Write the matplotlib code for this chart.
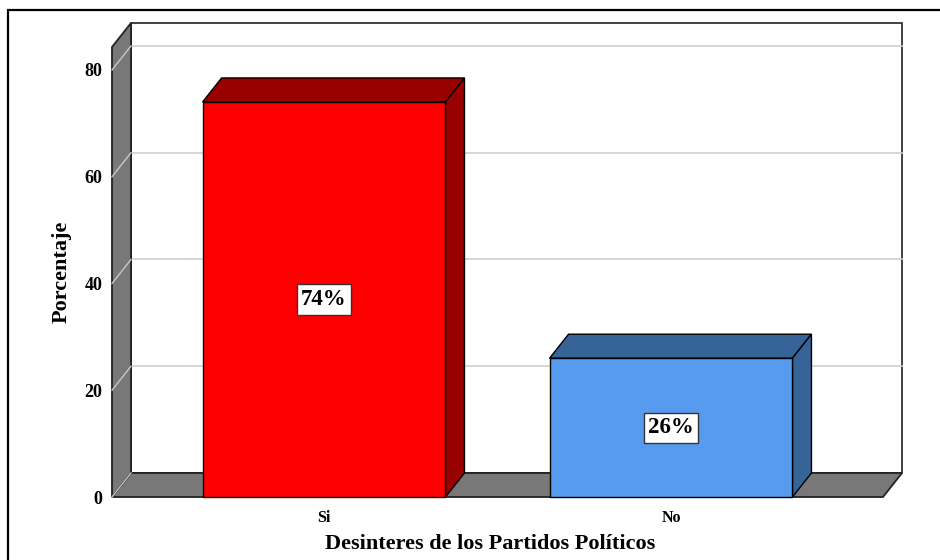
import matplotlib
matplotlib.use("Agg")
import matplotlib.pyplot as plt
from matplotlib.patches import Polygon, Rectangle

categories = ["Si", "No"]
values = [74, 26]
value_labels = ["74%", "26%"]
yticks = [0, 20, 40, 60, 80]
front_colors = ["#FF0000", "#579BEF"]
shade_colors = ["#990000", "#366398"]

plt.rcParams['font.family'] = ['Liberation Serif', 'DejaVu Serif']
plt.rcParams['font.weight'] = 'bold'

fig = plt.figure(figsize=(9.4, 5.6), dpi=100)
ax = fig.add_axes([112/940, 63/560, 771/940, 450/560])
ax.set_xlim(-0.611, 1.611)
ax.set_ylim(0, 84.3)
for s in ax.spines.values():
    s.set_visible(False)
ax.patch.set_visible(False)

DX, DY = 0.0548, 4.5
x0, x1 = ax.get_xlim()
top = ax.get_ylim()[1]
edge = "#222222"
wall = "#787878"

# back wall
ax.add_patch(Polygon([(x0+DX, DY), (x1+DX, DY), (x1+DX, top+DY), (x0+DX, top+DY)],
                     closed=True, fc="white", ec="#333333", lw=1.3, zorder=1, clip_on=False))
for v in yticks[1:]:
    ax.plot([x0+DX, x1+DX], [v+DY, v+DY], color="#cfcfcf", lw=1.2, zorder=1.5, clip_on=False)
# floor
ax.add_patch(Polygon([(x0, 0), (x1, 0), (x1+DX, DY), (x0+DX, DY)], closed=True,
                     fc=wall, ec=edge, lw=1.3, zorder=2, clip_on=False))
# left wall
ax.add_patch(Polygon([(x0, 0), (x0, top), (x0+DX, top+DY), (x0+DX, DY)], closed=True,
                     fc=wall, ec=edge, lw=1.3, zorder=3, clip_on=False))
for v in yticks:
    ax.plot([x0, x0+DX], [v, v+DY], color="#c8c8c8", lw=1.0, zorder=3.5, clip_on=False)

# bars
w = 0.70
for i, (v, fc, sc, lab) in enumerate(zip(values, front_colors, shade_colors, value_labels)):
    left, right = i - w/2, i + w/2
    ax.add_patch(Polygon([(left, v), (right, v), (right+DX, v+DY), (left+DX, v+DY)],
                         closed=True, fc=sc, ec="black", lw=1.0, zorder=4, clip_on=False))
    ax.add_patch(Polygon([(right, 0), (right, v), (right+DX, v+DY), (right+DX, DY)],
                         closed=True, fc=sc, ec="black", lw=1.0, zorder=4, clip_on=False))
    ax.add_patch(Rectangle((left, 0), w, v, fc=fc, ec="black", lw=1.0, zorder=5, clip_on=False))
    ax.text(i, v/2, lab, ha="center", va="center", fontsize=16.5, fontweight="bold", zorder=6,
            bbox=dict(boxstyle="square,pad=0.2", fc="white", ec="#333333", lw=1.0))

ax.set_yticks(yticks)
ax.set_yticklabels([str(t) for t in yticks], fontsize=13, fontweight="bold")
ax.tick_params(axis="y", length=0, pad=7)
ax.set_xticks(range(len(categories)))
ax.set_xticklabels(categories, fontsize=11.5, fontweight="bold")
ax.tick_params(axis="x", length=0, pad=9)

ax.set_ylabel("Porcentaje", fontsize=16, fontweight="bold")
ax.yaxis.set_label_coords(-0.052, 0.5)
ax.set_xlabel("Desinteres de los Partidos Políticos", fontsize=16, fontweight="bold", va="top")
ax.xaxis.set_label_coords(0.49, -0.082)

fig.add_artist(Rectangle((8/940, -0.05), 1.0, 1 - 10/560 + 0.05, transform=fig.transFigure,
                         fill=False, ec="black", lw=1.6))

fig.savefig("out.png", dpi=100, facecolor="white")
